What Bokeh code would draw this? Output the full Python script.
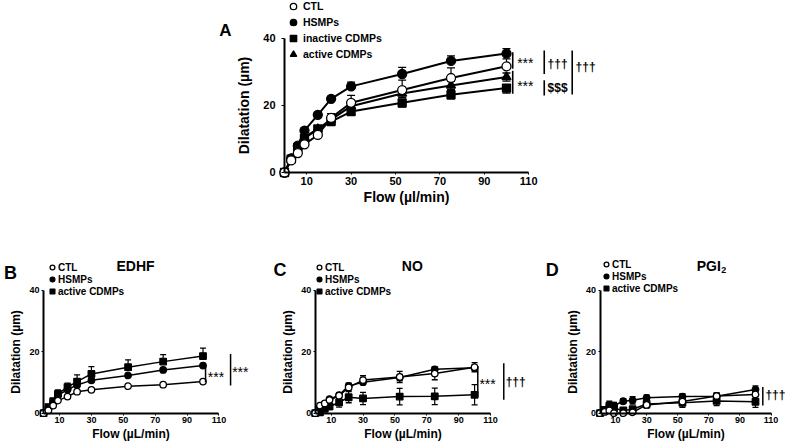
from bokeh.plotting import figure
from bokeh.models import ColumnDataSource, Range1d, FixedTicker, Label, Legend, LegendItem, Spacer
from bokeh.layouts import column, row
from bokeh.embed import file_html
from bokeh.resources import INLINE

FONT = "Liberation Sans"

# ---------------- data ----------------
flow = [0, 3, 6, 9, 15, 21, 30, 53, 75, 100]
x_ticks = [10, 30, 50, 70, 90, 110]
y_ticks = [0, 20, 40]

# Panel A
a_ctl = [0.0, 3.6, 5.8, 8.4, 11.2, 16.3, 20.8, 24.6, 28.2, 31.7]
a_ctl_err = [0.0, 0.7, 0.8, 1.0, 1.5, 1.3, 2.2, 3.0, 3.0, 2.2]
a_hsmps = [0.0, 4.2, 8.0, 12.5, 17.2, 22.0, 25.7, 29.4, 33.3, 35.5]
a_hsmps_err = [0.0, 0.5, 0.7, 0.8, 0.7, 0.5, 1.3, 2.0, 1.5, 1.5]
a_inact = [0.0, 4.0, 7.5, 10.2, 13.0, 15.2, 18.2, 20.8, 23.2, 25.2]
a_inact_err = [0.0, 0.5, 0.6, 0.8, 0.8, 0.8, 0.8, 1.3, 1.2, 1.5]
a_act = [0.0, 4.0, 7.5, 10.5, 13.0, 15.8, 19.8, 23.6, 26.0, 28.5]
a_act_err = [0.0, 0.5, 0.6, 0.7, 0.8, 1.0, 1.0, 1.2, 1.2, 1.2]

# Panel B (EDHF)
b_ctl = [0.0, 0.9, 2.5, 4.1, 5.4, 7.0, 7.6, 8.8, 9.3, 10.3]
b_ctl_err = [0.0, 0.3, 0.3, 0.4, 0.5, 0.5, 0.5, 0.5, 0.5, 0.5]
b_hsmps = [0.0, 1.7, 3.6, 5.8, 7.7, 9.2, 10.7, 12.3, 14.1, 15.5]
b_hsmps_err = [0.0, 0.3, 0.4, 0.5, 0.5, 0.5, 0.5, 0.5, 0.4, 0.4]
b_act = [0.0, 2.0, 3.9, 6.3, 8.5, 10.3, 12.8, 15.0, 16.8, 18.6]
b_act_err = [0.0, 0.5, 0.9, 1.3, 1.3, 2.2, 2.4, 2.4, 2.3, 2.6]

# Panel C (NO)
c_ctl = [0.0, 2.5, 3.2, 4.3, 5.7, 8.4, 10.8, 11.8, 12.9, 15.0]
c_ctl_err = [0.0, 0.4, 0.5, 0.6, 0.8, 1.0, 1.4, 1.8, 2.0, 1.5]
c_hsmps = [0.0, 1.9, 3.0, 4.6, 5.9, 8.9, 10.1, 11.6, 14.3, 14.8]
c_hsmps_err = [0.0, 0.3, 0.4, 0.5, 0.6, 0.9, 0.8, 1.0, 0.8, 0.8]
c_act = [0.0, 0.3, 1.4, 2.2, 3.5, 5.2, 4.8, 5.4, 5.5, 6.0]
c_act_err = [0.0, 0.5, 0.8, 1.0, 1.5, 1.8, 2.0, 2.7, 2.7, 3.3]

# Panel D (PGI2)
d_ctl = [0.0, 0.4, 0.9, 0.0, 0.0, 0.3, 2.7, 3.8, 5.6, 6.1]
d_ctl_err = [0.0, 0.3, 0.4, 0.5, 0.5, 0.6, 1.0, 1.0, 1.0, 1.2]
d_hsmps = [0.0, 0.7, 2.0, 2.5, 3.9, 4.2, 5.0, 5.4, 5.5, 7.7]
d_hsmps_err = [0.0, 0.5, 1.0, 1.0, 0.8, 1.2, 1.0, 1.0, 1.0, 1.2]
d_act = [0.0, 1.1, 2.4, 1.6, 0.9, 1.3, 3.0, 3.4, 4.0, 3.7]
d_act_err = [0.0, 0.8, 1.5, 1.5, 0.8, 0.8, 1.2, 1.5, 1.5, 1.8]

# significance brackets: (x, y_top, y_bottom) and texts
a_sig_lines = [(102.8, 35.9, 31.0), (102.8, 30.4, 23.5), (117.0, 36.4, 29.4),
               (117.0, 27.5, 23.0), (129.6, 36.4, 23.3)]
a_sig_text = [("***", 104.8, 33.6), ("***", 104.8, 26.7), ("†††", 118.5, 32.4),
              ("$$$", 118.5, 25.2), ("†††", 131.1, 31.4)]
b_sig_lines = [(101.6, 15.5, 10.1), (117.3, 19.3, 9.0)]
b_sig_text = [("***", 103.0, 12.8), ("***", 118.3, 14.5)]
c_sig_lines = [(102.0, 15.3, 5.2), (118.3, 16.3, 4.4)]
c_sig_text = [("***", 103.0, 10.6), ("†††", 119.5, 10.1)]
d_sig_lines = [(104.7, 8.5, 2.5)]
d_sig_text = [("†††", 106.4, 5.8)]


def style_axes(p, tick_size, label_size, xlabel, ylabel, y_tick_out, y_std, y_lab_std,
               x_std, x_lab_std):
    p.grid.visible = False
    p.outline_line_color = None
    p.background_fill_color = "white"
    p.border_fill_color = "white"
    p.xaxis.fixed_location = 0
    p.yaxis.fixed_location = 0
    p.xaxis.bounds = (0, 110)
    p.yaxis.bounds = (0, 40)
    p.xaxis.ticker = FixedTicker(ticks=x_ticks)
    p.yaxis.ticker = FixedTicker(ticks=y_ticks)
    p.xaxis.axis_label = xlabel
    p.yaxis.axis_label = ylabel
    for ax in (p.xaxis, p.yaxis):
        ax.axis_line_width = 2
        ax.axis_line_color = "black"
        ax.major_tick_line_color = "black"
        ax.major_tick_line_width = 1
        ax.minor_tick_line_color = None
        ax.major_tick_in = 0
        ax.major_label_text_font = FONT
        ax.major_label_text_font_style = "bold"
        ax.major_label_text_font_size = tick_size
        ax.major_label_text_color = "black"
        ax.axis_label_text_font = FONT
        ax.axis_label_text_font_style = "bold"
        ax.axis_label_text_font_size = label_size
        ax.axis_label_text_color = "black"
    p.yaxis.major_tick_out = y_tick_out
    p.xaxis.major_tick_out = 2
    p.yaxis.major_label_standoff = y_std
    p.yaxis.axis_label_standoff = y_lab_std
    p.xaxis.major_label_standoff = x_std
    p.xaxis.axis_label_standoff = x_lab_std


def add_series(p, y, err, mode, marker, fill, size, lw, cap):
    top = [v + e if mode in ("up", "both") else v for v, e in zip(y, err)]
    bot = [v - e if mode in ("down", "both") else v for v, e in zip(y, err)]
    src = ColumnDataSource(dict(x=flow, y=y, top=top, bot=bot))
    p.segment(x0="x", y0="bot", x1="x", y1="top", source=src, line_color="black", line_width=1.2)
    if mode in ("up", "both"):
        p.scatter("x", "top", marker="dash", size=cap, line_color="black", line_width=1.3, source=src)
    if mode in ("down", "both"):
        p.scatter("x", "bot", marker="dash", size=cap, line_color="black", line_width=1.3, source=src)
    p.line("x", "y", source=src, line_color="black", line_width=lw)
    r = p.scatter("x", "y", marker=marker, size=size, fill_color=fill, line_color="black",
                  line_width=1.3, source=src)
    return r


def add_sig(p, lines, texts, lw):
    p.segment(x0=[l[0] for l in lines], y0=[l[1] for l in lines],
              x1=[l[0] for l in lines], y1=[l[2] for l in lines],
              line_color="black", line_width=lw)
    for t, x, y in texts:
        star = t == "***"
        p.add_layout(Label(x=x, y=y, text=t, text_font=FONT,
                           text_font_size="14px" if star else "12px",
                           text_font_style="normal" if star else "bold",
                           text_align="left", text_baseline="middle",
                           y_offset=-3 if star else 0, text_color="black"))


def add_legend(p, items, loc, glyph, standoff, font_size):
    leg = Legend(items=[LegendItem(label=l, renderers=[r]) for l, r in items],
                 location=loc, orientation="vertical",
                 glyph_width=glyph, glyph_height=glyph, label_height=glyph, label_width=10,
                 spacing=0, padding=0, margin=0, label_standoff=standoff,
                 label_text_font=FONT, label_text_font_style="bold",
                 label_text_font_size=font_size, label_text_color="black",
                 background_fill_alpha=0, border_line_alpha=0)
    p.add_layout(leg)


def text(p, t, x, y, size, align="center"):
    p.add_layout(Label(x=x, y=y, text=t, text_font=FONT, text_font_size=size,
                       text_font_style="bold", text_align=align, text_baseline="middle",
                       text_color="black"))


def make_fig(width, height, xr, yr):
    return figure(width=width, height=height, x_range=Range1d(*xr), y_range=Range1d(*yr),
                  output_backend="svg", toolbar_location=None,
                  min_border_left=0, min_border_right=0, min_border_top=0, min_border_bottom=0)


# ---------------- Panel A ----------------
pA = make_fig(410, 228, (-35.59, 149.10), (-16.72, 51.34))
style_axes(pA, "11px", "14px", "Flow (µl/min)", "Dilatation (µm)", 3, 6, 8, 3, 0)
rA_in = add_series(pA, a_inact, a_inact_err, "down", "square", "black", 8, 2, 8)
rA_ac = add_series(pA, a_act, a_act_err, "both", "triangle", "black", 9, 2, 8)
rA_hs = add_series(pA, a_hsmps, a_hsmps_err, "up", "circle", "black", 9, 2, 8)
rA_ct = add_series(pA, a_ctl, a_ctl_err, "up", "circle", "white", 9, 2, 8)
add_sig(pA, a_sig_lines, a_sig_text, 1.6)
add_legend(pA, [("CTL", rA_ct), ("HSMPs", rA_hs), ("inactive CDMPs", rA_in), ("active CDMPs", rA_ac)],
           (80, 166), 16, 2, "10.5px")
text(pA, "A", -26.6, 42.4, "17px")


def bottom_panel(width, xr, ctl, ctl_err, hs, hs_err, ac, ac_err, modes,
                 sig_lines, sig_text, leg_loc):
    p = make_fig(width, 217, xr, (-10.52, 60.16))
    style_axes(p, "9px", "12px", "Flow (µL/min)", "Dilatation (µm)", 2, 2, 3, 2, 0)
    r_ac = add_series(p, ac, ac_err, modes[2], "square", "black", 6.5, 1.5, 6)
    r_hs = add_series(p, hs, hs_err, modes[1], "circle", "black", 6.5, 1.5, 6)
    r_ct = add_series(p, ctl, ctl_err, modes[0], "circle", "white", 6.5, 1.5, 6)
    add_sig(p, sig_lines, sig_text, 1.5)
    add_legend(p, [("CTL", r_ct), ("HSMPs", r_hs), ("active CDMPs", r_ac)], leg_loc, 12, 0, "10px")
    return p


pB = bottom_panel(272, (-27.04, 143.6), b_ctl, b_ctl_err, b_hsmps, b_hsmps_err, b_act, b_act_err,
                  ("down", "up", "up"), b_sig_lines, b_sig_text, (46, 148))
text(pB, "B", -20.8, 45.8, "18px")
text(pB, "EDHF", 57.7, 47.8, "14px")

pC = bottom_panel(273, (-26.79, 144.48), c_ctl, c_ctl_err, c_hsmps, c_hsmps_err, c_act, c_act_err,
                  ("both", "both", "both"), c_sig_lines, c_sig_text, (41, 148))
text(pC, "C", -22.1, 46.8, "18px")
text(pC, "NO", 60.9, 47.8, "14px")

pD = bottom_panel(241, (-35.05, 119.94), d_ctl, d_ctl_err, d_hsmps, d_hsmps_err, d_act, d_act_err,
                  ("both", "both", "both"), d_sig_lines, d_sig_text, (55, 151))
text(pD, "D", -30.7, 46.6, "18px")
text(pD, "PGI", 77.7, 48.1, "14px", align="right")
text(pD, "2", 78.0, 46.5, "9px", align="left")

layout = column(row(Spacer(width=205, height=228), pA), row(pB, pC, pD))
open("out.html", "w").write(file_html(layout, INLINE))
